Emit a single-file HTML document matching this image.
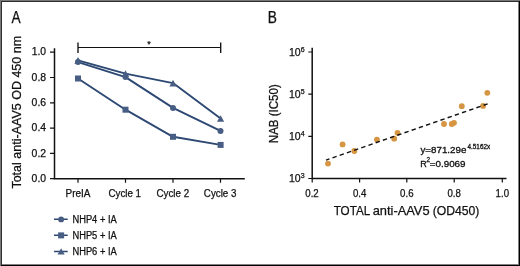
<!DOCTYPE html>
<html><head><meta charset="utf-8">
<style>
html,body{margin:0;padding:0;background:#fff;}
body{width:520px;height:266px;overflow:hidden;}
svg{display:block;-webkit-font-smoothing:antialiased;will-change:transform;}
text{font-family:"Liberation Sans",sans-serif;fill:#111;stroke:#111;stroke-width:0.25;}
.eq text{stroke-width:0.3;}
</style></head>
<body>
<svg width="520" height="266" viewBox="0 0 520 266">
<rect x="0" y="0" width="520" height="266" fill="#fff"/>
<!-- frame -->
<g shape-rendering="crispEdges">
<rect x="518" y="2" width="1" height="263" fill="#808080"/>
<rect x="2" y="264" width="516" height="1" fill="#808080"/>
<rect x="1" y="1" width="518" height="1" fill="#2e2e2e"/>
<rect x="1" y="1" width="1" height="264" fill="#333"/>
<rect x="519" y="1" width="1" height="265" fill="#000"/>
<rect x="1" y="265" width="519" height="1" fill="#000"/>
<rect x="0" y="0" width="520" height="1" fill="#777"/>
<rect x="0" y="0" width="1" height="266" fill="#777"/>
</g>

<!-- Panel A -->
<text x="11.55" y="22.9" font-size="15.6" textLength="9.16" lengthAdjust="spacingAndGlyphs">A</text>
<g stroke="#111" fill="none">
  <path d="M54.5 48.3V178.7H244.8" stroke-width="1.5"/>
  <path d="M50 52.2H54.5M50 77.5H54.5M50 102.8H54.5M50 128.1H54.5M50 153.4H54.5M50 178.7H54.5" stroke-width="1.2"/>
  <path d="M78 178.7V182.8M125.5 178.7V182.8M173 178.7V182.8M220.5 178.7V182.8" stroke-width="1.2"/>
  <path d="M78 42.4V52.9M220.7 42.4V52.9" stroke-width="1.35"/>
  <path d="M78 47.5H220.7" stroke-width="1.1"/>
</g>
<text x="149.1" y="46.6" font-size="9" text-anchor="middle">*</text>
<g font-size="10.2">
  <text x="31.7" y="55.45" textLength="14.38" lengthAdjust="spacingAndGlyphs">1.0</text>
  <text x="31.6" y="80.73" textLength="14.51" lengthAdjust="spacingAndGlyphs">0.8</text>
  <text x="31.6" y="106.01" textLength="14.51" lengthAdjust="spacingAndGlyphs">0.6</text>
  <text x="31.6" y="131.29" textLength="14.51" lengthAdjust="spacingAndGlyphs">0.4</text>
  <text x="31.6" y="156.57" textLength="14.51" lengthAdjust="spacingAndGlyphs">0.2</text>
  <text x="31.6" y="181.85" textLength="14.51" lengthAdjust="spacingAndGlyphs">0.0</text>
</g>
<g font-size="10">
  <text x="65.5" y="196.8" textLength="24.86" lengthAdjust="spacingAndGlyphs">PreIA</text>
  <text x="108.45" y="196.8" textLength="32.6" lengthAdjust="spacingAndGlyphs">Cycle 1</text>
  <text x="156.5" y="196.8" textLength="32.6" lengthAdjust="spacingAndGlyphs">Cycle 2</text>
  <text x="203.85" y="196.8" textLength="32.6" lengthAdjust="spacingAndGlyphs">Cycle 3</text>
</g>
<text transform="translate(21.1 188.6) rotate(-90)" font-size="12" textLength="152.73" lengthAdjust="spacingAndGlyphs">Total anti-AAV5 OD 450 nm</text>

<!-- series -->
<g stroke="#2d4873" stroke-width="1.9" fill="none" stroke-linejoin="round">
  <polyline points="78,62.1 125.5,77.1 173,107.9 220.5,130.9"/>
  <polyline points="78,78.5 125.5,109.7 173,136.8 220.6,144.9"/>
  <polyline points="78,60.3 125.5,73.6 173,83.1 220.6,118.45"/>
</g>
<g fill="#475d83">
  <circle cx="78" cy="62.1" r="3"/>
  <circle cx="125.5" cy="77.1" r="3"/>
  <circle cx="173" cy="107.9" r="3"/>
  <circle cx="220.5" cy="130.9" r="3"/>
  <rect x="75" y="75.5" width="6" height="6"/>
  <rect x="122.5" y="106.7" width="6" height="6"/>
  <rect x="170" y="133.8" width="6" height="6"/>
  <rect x="217.6" y="141.9" width="6" height="6"/>
  <path d="M78 57.00L81.60 63.65H74.40Z"/>
  <path d="M125.5 70.30L129.10 76.95H121.90Z"/>
  <path d="M173 79.80L176.60 86.45H169.40Z"/>
  <path d="M220.6 115.15L224.20 121.80H217.00Z"/>
</g>

<!-- legend -->
<g stroke="#2d4873" stroke-width="1.5">
  <path d="M54 219.3H67.7M54 235.3H67.7M54 251.4H67.7"/>
</g>
<g fill="#475d83">
  <circle cx="61.1" cy="219.4" r="2.95"/>
  <rect x="58.1" y="232.4" width="6" height="6"/>
  <path d="M61.1 248.2L64.7 254.6H57.5Z"/>
</g>
<g font-size="10">
  <text x="72.4" y="222.7" textLength="44.4" lengthAdjust="spacingAndGlyphs">NHP4 + IA</text>
  <text x="72.4" y="238.95" textLength="44.4" lengthAdjust="spacingAndGlyphs">NHP5 + IA</text>
  <text x="72.4" y="255.0" textLength="44.4" lengthAdjust="spacingAndGlyphs">NHP6 + IA</text>
</g>

<!-- Panel B -->
<text x="267.65" y="22.95" font-size="15.6" textLength="9.16" lengthAdjust="spacingAndGlyphs">B</text>
<g stroke="#111" fill="none">
  <path d="M312.2 47.7V178.5H506.5" stroke-width="1.5"/>
  <path d="M308.3 52H312.2M308.3 94.2H312.2M308.3 136.4H312.2M308.3 178.5H312.2" stroke-width="1.2"/>
  <path d="M312.2 178.5V182.5M359.6 178.5V182.5M406.8 178.5V182.5M454.2 178.5V182.5M502.3 178.5V182.5" stroke-width="1.2"/>
</g>
<g font-size="10.5">
  <text x="289" y="55.8">10<tspan font-size="7" dy="-4">6</tspan></text>
  <text x="289" y="97.8">10<tspan font-size="7" dy="-4">5</tspan></text>
  <text x="289" y="140">10<tspan font-size="7" dy="-4">4</tspan></text>
  <text x="289" y="182">10<tspan font-size="7" dy="-4">3</tspan></text>
</g>
<g font-size="10">
  <text x="305.30" y="197.3" textLength="13.4" lengthAdjust="spacingAndGlyphs">0.2</text>
  <text x="352.90" y="197.3" textLength="13.4" lengthAdjust="spacingAndGlyphs">0.4</text>
  <text x="400.10" y="197.3" textLength="13.4" lengthAdjust="spacingAndGlyphs">0.6</text>
  <text x="447.50" y="197.3" textLength="13.4" lengthAdjust="spacingAndGlyphs">0.8</text>
  <text x="495.60" y="197.3" textLength="13.4" lengthAdjust="spacingAndGlyphs">1.0</text>
</g>
<g font-size="13">
  <text x="333.65" y="215.3" textLength="36.56" lengthAdjust="spacingAndGlyphs">TOTAL</text>
  <text x="372.7" y="215.3" textLength="56.88" lengthAdjust="spacingAndGlyphs">anti-AAV5</text>
  <text x="432.65" y="215.3" textLength="46.74" lengthAdjust="spacingAndGlyphs">(OD450)</text>
</g>
<text transform="translate(277.7 143.15) rotate(-90)" font-size="12.3" textLength="58.92" lengthAdjust="spacingAndGlyphs">NAB (IC50)</text>

<g fill="#d69540">
  <circle cx="328" cy="163.6" r="2.9"/>
  <circle cx="342.6" cy="144.4" r="2.9"/>
  <circle cx="354.3" cy="151" r="2.9"/>
  <circle cx="376.9" cy="139.6" r="2.9"/>
  <circle cx="394.2" cy="138.7" r="2.9"/>
  <circle cx="397.5" cy="132.8" r="2.9"/>
  <circle cx="444" cy="124" r="2.9"/>
  <circle cx="451.8" cy="124" r="2.9"/>
  <circle cx="454" cy="122.8" r="2.9"/>
  <circle cx="461.8" cy="106.2" r="2.9"/>
  <circle cx="483.1" cy="105.9" r="2.9"/>
  <circle cx="487.3" cy="92.8" r="2.9"/>
</g>
<path d="M326 160.1L487.6 103.9" stroke="#111" stroke-width="1.5" stroke-dasharray="4.4 3.22" stroke-dashoffset="0.77" fill="none"/>

<g font-size="9" class="eq">
  <text x="420.45" y="153.3" textLength="45.88" lengthAdjust="spacingAndGlyphs">y=871.29e</text>
  <text x="467.55" y="148.9" font-size="6.5" textLength="22.56" lengthAdjust="spacingAndGlyphs">4.5162x</text>
  <text x="420.3" y="167.1">R</text>
  <text x="426.6" y="162.4" font-size="7" textLength="3.6" lengthAdjust="spacingAndGlyphs">2</text>
  <text x="429.75" y="167.1" textLength="35.79" lengthAdjust="spacingAndGlyphs">=0.9069</text>
</g>
</svg>
</body></html>
